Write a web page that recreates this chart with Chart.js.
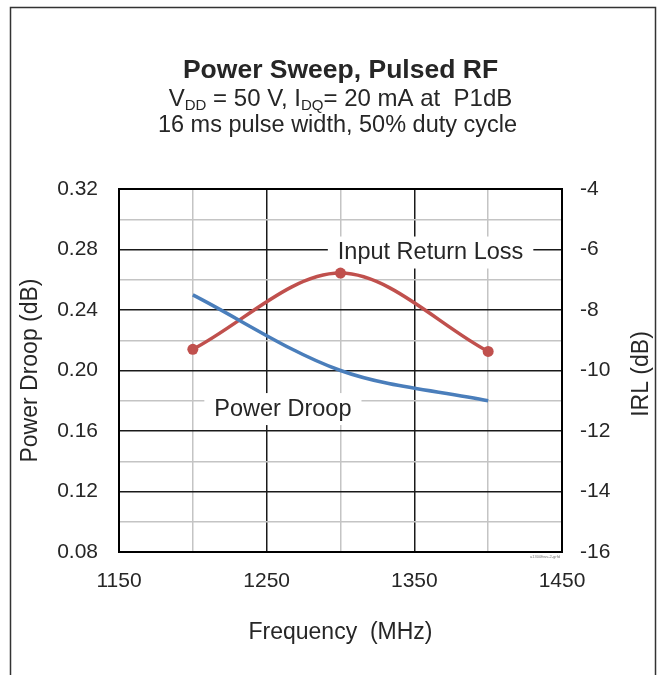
<!DOCTYPE html>
<html>
<head>
<meta charset="utf-8">
<script src="https://cdn.jsdelivr.net/npm/chart.js@4.4.1/dist/chart.umd.min.js"></script>
<style>
  html, body { margin: 0; padding: 0; background: #fff; }
  #wrap { position: relative; width: 666px; height: 675px; overflow: hidden; }
</style>
</head>
<body>
<div id="wrap"><canvas id="grafica" width="666" height="675"></canvas></div>
<script>
// valores
const frecuencias = [1200, 1300, 1400];
const caidaPotencia = [0.250, 0.200, 0.180];   // Power Droop (dB), eje izquierdo
const perdidaRetorno = [-9.3, -6.78, -9.37];   // IRL (dB), eje derecho

const ticksFrecuencia = [1150, 1250, 1350, 1450];
const ticksCaida = [0.08, 0.12, 0.16, 0.20, 0.24, 0.28, 0.32];
const ticksIRL = [-16, -14, -12, -10, -8, -6, -4];

const fuente = "'Liberation Sans', Arial, sans-serif";
const colorTexto = '#262626';

function esTick(lista, v) {
    return lista.some(t => Math.abs(t - v) < 1e-9);
}

// etiquetas dentro del area (posicion en unidades de los ejes x / y)
const etiquetas = [
    { texto: 'Input Return Loss', x: 1361, y: 0.278 },
    { texto: 'Power Droop', x: 1261, y: 0.1745 }
];

const dibujoExtra = {
    id: 'dibujoExtra',
    beforeDraw(chart) {
        const ctx = chart.ctx;
        ctx.save();
        ctx.fillStyle = '#fff';
        ctx.fillRect(0, 0, chart.width, chart.height);
        // marco exterior
        ctx.strokeStyle = '#333';
        ctx.lineWidth = 1.5;
        ctx.strokeRect(10.5, 7.5, 645, 720);
        ctx.restore();
    },
    beforeDatasetsDraw(chart) {
        const { ctx, chartArea: a, scales } = chart;
        ctx.save();
        // marco del area de trazado
        ctx.strokeStyle = '#000';
        ctx.lineWidth = 2;
        ctx.strokeRect(a.left, a.top, a.right - a.left, a.bottom - a.top);

        ctx.font = '23.5px ' + fuente;
        ctx.textAlign = 'center';
        ctx.textBaseline = 'middle';
        etiquetas.forEach(e => {
            const px = scales.x.getPixelForValue(e.x);
            const py = scales.y.getPixelForValue(e.y);
            const w = ctx.measureText(e.texto).width + 20;
            ctx.fillStyle = '#fff';
            ctx.fillRect(px - w / 2, py - 16, w, 32);
            ctx.fillStyle = colorTexto;
            ctx.fillText(e.texto, px, py);
        });
        ctx.restore();
    },
    afterDraw(chart) {
        const { ctx, chartArea: a } = chart;
        const cx = (a.left + a.right) / 2;
        ctx.save();
        ctx.fillStyle = colorTexto;
        ctx.textAlign = 'center';
        ctx.textBaseline = 'alphabetic';

        ctx.font = 'bold 26.5px ' + fuente;
        ctx.fillText('Power Sweep, Pulsed RF', cx, 78);

        // segunda linea con subindices
        const partes = [
            ['V', false], ['DD', true], [' = 50 V, I', false], ['DQ', true], ['= 20 mA at  P1dB', false]
        ];
        const fNormal = '24px ' + fuente;
        const fSub = '15px ' + fuente;
        let total = 0;
        partes.forEach(p => {
            ctx.font = p[1] ? fSub : fNormal;
            total += ctx.measureText(p[0]).width;
        });
        let xx = cx - total / 2;
        ctx.textAlign = 'left';
        partes.forEach(p => {
            ctx.font = p[1] ? fSub : fNormal;
            ctx.fillText(p[0], xx, p[1] ? 110 : 105.5);
            xx += ctx.measureText(p[0]).width;
        });

        ctx.textAlign = 'center';
        ctx.font = '23.5px ' + fuente;
        ctx.fillText('16 ms pulse width, 50% duty cycle', cx - 3, 131.5);

        // titulo del eje derecho (de abajo hacia arriba)
        ctx.save();
        ctx.translate(642, 374);
        ctx.rotate(-Math.PI / 2);
        ctx.font = '23px ' + fuente;
        ctx.textBaseline = 'middle';
        ctx.fillText('IRL (dB)', 0, 0);
        ctx.restore();

        // codigo de la figura
        ctx.font = '4px ' + fuente;
        ctx.fillStyle = '#777';
        ctx.textAlign = 'right';
        ctx.fillText('a1300ftwv-2-grfd', a.right - 2, a.bottom + 6);
        ctx.restore();
    }
};

new Chart(document.getElementById('grafica'), {
    type: 'line',
    data: {
        datasets: [{
            label: 'Power Droop',
            data: frecuencias.map((f, i) => ({ x: f, y: caidaPotencia[i] })),
            yAxisID: 'y',
            borderColor: '#4a7ebb',
            borderWidth: 3.5,
            pointRadius: 0,
            tension: 0.33,
            fill: false
        }, {
            label: 'Input Return Loss',
            data: frecuencias.map((f, i) => ({ x: f, y: perdidaRetorno[i] })),
            yAxisID: 'y2',
            borderColor: '#c0504d',
            borderWidth: 3.5,
            pointRadius: 5.5,
            pointBackgroundColor: '#c0504d',
            pointBorderWidth: 0,
            tension: 0.33,
            fill: false
        }]
    },
    options: {
        responsive: false,
        animation: false,
        devicePixelRatio: 1,
        layout: { padding: { top: 189, left: 0, right: 0, bottom: 0 } },
        plugins: {
            legend: { display: false },
            tooltip: { enabled: false }
        },
        scales: {
            x: {
                type: 'linear',
                min: 1150,
                max: 1450,
                afterFit(s) { s.height = 123; },
                ticks: {
                    stepSize: 50,
                    autoSkip: false,
                    maxRotation: 0,
                    padding: 17,
                    color: colorTexto,
                    font: { family: fuente, size: 21 },
                    callback: v => esTick(ticksFrecuencia, v) ? String(v) : ''
                },
                grid: {
                    drawTicks: false,
                    lineWidth: 1.5,
                    color: c => esTick(ticksFrecuencia, c.tick.value) ? '#1a1a1a' : '#c4c4c4'
                },
                border: { display: false },
                title: {
                    display: true,
                    text: 'Frequency  (MHz)',
                    color: colorTexto,
                    font: { family: fuente, size: 23 },
                    padding: { top: 0, bottom: 29 }
                }
            },
            y: {
                position: 'left',
                min: 0.08,
                max: 0.32,
                afterFit(s) { s.width = 119; },
                ticks: {
                    stepSize: 0.02,
                    autoSkip: false,
                    padding: 21,
                    color: colorTexto,
                    font: { family: fuente, size: 21 },
                    callback: v => esTick(ticksCaida, v) ? v.toFixed(2) : ''
                },
                grid: {
                    drawTicks: false,
                    lineWidth: 1.5,
                    color: c => esTick(ticksCaida, c.tick.value) ? '#1a1a1a' : '#c4c4c4'
                },
                border: { display: false },
                title: {
                    display: true,
                    text: 'Power Droop (dB)',
                    color: colorTexto,
                    font: { family: fuente, size: 23 },
                    padding: { top: 17, bottom: 0 }
                }
            },
            y2: {
                position: 'right',
                min: -16,
                max: -4,
                afterFit(s) { s.width = 104; },
                ticks: {
                    stepSize: 2,
                    autoSkip: false,
                    padding: 18,
                    color: colorTexto,
                    font: { family: fuente, size: 21 },
                    callback: v => esTick(ticksIRL, v) ? String(v) : ''
                },
                grid: { display: false, drawTicks: false },
                border: { display: false }
            }
        }
    },
    plugins: [dibujoExtra]
});
</script>
</body>
</html>
